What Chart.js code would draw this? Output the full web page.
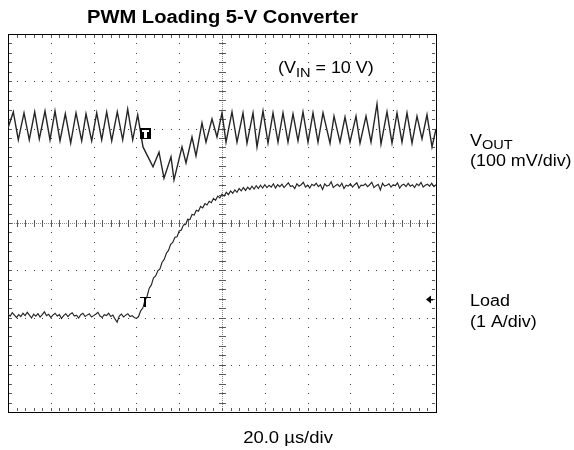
<!DOCTYPE html>
<html>
<head>
<meta charset="utf-8">
<script src="https://cdn.jsdelivr.net/npm/chart.js@4.4.1/dist/chart.umd.min.js"></script>
<style>
  body { margin: 0; background: #fff; }
  canvas { display: block; }
</style>
</head>
<body>
<canvas id="scope" width="574" height="450"></canvas>
<script>
// scope capture: x in microseconds (20 us/div), y in screen divisions (center = 0)
const xDivUs = 20;
const xDivs = 10;
const yDivs = 8;

// VOUT trace (100 mV/div), vertices of the ripple
const voutT = [0, 2.48, 4.81, 7.48, 9.95, 12.48, 14.63, 17.29, 19.63, 21.96, 24.3, 26.78, 29.3, 31.78,
  34.44, 36.45, 39.11, 41.45, 43.79, 46.12, 48.46, 51.07, 53.6, 55.93, 58.27, 60.61, 63.08, 67.76,
  70.56, 72.9, 76.17, 77.57, 81.31, 83.18, 85.98, 87.85, 90.65, 92.52, 95.33, 97.66, 100, 101.87,
  104.67, 107.01, 109.81, 111.68, 114.49, 116.36, 119.16, 121.5, 123.83, 126.17, 128.5, 130.84,
  133.18, 135.51, 137.85, 140.19, 142.52, 144.86, 147.2, 150.47, 152.34, 155.14, 157.48, 159.81,
  162.62, 164.49, 167.29, 169.63, 172.43, 174.3, 177.1, 179.44, 181.78, 184.11, 186.45, 188.79,
  191.12, 193.46, 195.79, 198.13, 200];
const voutDiv = [2.01, 2.35, 1.76, 2.33, 1.76, 2.35, 1.78, 2.37, 1.76, 2.37, 1.74, 2.31, 1.69, 2.33,
  1.74, 2.31, 1.74, 2.33, 1.76, 2.35, 1.74, 2.35, 1.76, 2.41, 1.76, 2.29, 1.61, 1.19,
  1.5, 0.95, 1.4, 0.91, 1.61, 1.27, 1.82, 1.42, 2.12, 1.71, 2.2, 1.82, 2.33, 1.71,
  2.35, 1.71, 2.33, 1.69, 2.33, 1.61, 2.37, 1.69, 2.33, 1.71, 2.33, 1.71,
  2.31, 1.74, 2.35, 1.71, 2.33, 1.71, 2.33, 1.69, 2.26, 1.71, 2.24, 1.71,
  2.26, 1.69, 2.26, 1.71, 2.52, 1.67, 2.35, 1.69, 2.33, 1.71, 2.33, 1.69,
  2.26, 1.78, 2.29, 1.61, 1.99];

// Load current trace (1 A/div), one sample per microsecond, 0..200 us
const loadDiv = [
  -1.93, -1.97, -1.90, -1.95, -2.00, -1.94, -1.98, -1.91, -1.96, -1.89,
  -1.95, -2.01, -1.93, -1.97, -1.92, -1.99, -1.94, -1.88, -1.96, -1.93,
  -2.00, -1.95, -1.91, -1.97, -1.94, -2.02, -1.96, -1.92, -1.98, -1.93,
  -1.90, -1.97, -1.95, -2.01, -1.94, -1.91, -1.98, -1.95, -1.92, -1.99,
  -1.96, -1.93, -1.89, -1.97, -2.00, -1.94, -1.96, -1.91, -1.98, -1.95,
  -2.03, -2.10, -1.97, -1.93, -1.99, -1.95, -1.92, -1.98, -1.96, -2.00,
  -2.02,
  -1.98, -1.86, -1.80, -1.64, -1.55, -1.38, -1.31, -1.16, -1.12, -1.01,
  -0.97, -0.83, -0.77, -0.64, -0.58, -0.45, -0.41, -0.30, -0.29, -0.17,
  -0.15, -0.04, -0.03, 0.08, 0.07, 0.18, 0.17, 0.27, 0.25, 0.35,
  0.32, 0.41, 0.38, 0.46, 0.43, 0.52, 0.48, 0.57, 0.53, 0.61,
  0.57, 0.65, 0.60, 0.68, 0.63, 0.70, 0.65, 0.73, 0.68, 0.75,
  0.69, 0.76, 0.71, 0.78, 0.72, 0.79, 0.73, 0.80, 0.74, 0.81,
  0.75, 0.80, 0.76, 0.83, 0.74, 0.81, 0.77,
  0.82, 0.75, 0.80, 0.85, 0.77, 0.79, 0.73, 0.83, 0.78, 0.81,
  0.86, 0.76, 0.80, 0.74, 0.82, 0.79, 0.84, 0.77, 0.81, 0.71,
  0.83, 0.78, 0.80, 0.87, 0.75, 0.79, 0.82, 0.77, 0.84, 0.73,
  0.80, 0.78, 0.83, 0.76, 0.81, 0.85, 0.74, 0.80, 0.79, 0.83,
  0.77, 0.81, 0.86, 0.75, 0.79, 0.82, 0.70, 0.84, 0.78, 0.80,
  0.83, 0.76, 0.81, 0.79, 0.85, 0.74, 0.80, 0.82, 0.77, 0.84,
  0.78, 0.81, 0.75, 0.83, 0.79, 0.86, 0.76, 0.80, 0.82, 0.78,
  0.84, 0.77, 0.81];
const loadT = loadDiv.map((v, i) => i); // 1 us sample interval

// markers
const trigT = 64;
const trigVoutDiv = 1.9;
const trigLoadDiv = -1.67;
const loadRefDiv = -1.61;

const FONT = '"Liberation Sans", Arial, sans-serif';

function stretchedText(ctx, text, x, y, font, align) {
  ctx.save();
  ctx.font = font;
  ctx.textBaseline = 'alphabetic';
  const w = ctx.measureText(text).width * 1.12;
  let x0 = x;
  if (align === 'center') x0 = x - w / 2;
  ctx.translate(x0, y);
  ctx.scale(1.12, 1);
  ctx.textAlign = 'left';
  ctx.fillText(text, 0, 0);
  ctx.restore();
  return w;
}

const graticule = {
  id: 'graticule',
  beforeDatasetsDraw(chart) {
    const { ctx, chartArea: a, scales: { x, y } } = chart;
    const xMin = x.min, yMin = y.min;
    const xMinor = xDivUs / 5, yMinor = 1 / 5;
    ctx.save();
    ctx.fillStyle = '#444';
    // dotted major lines
    for (let i = 1; i < xDivs; i++) {
      if (i === xDivs / 2) continue;
      const px = Math.round(x.getPixelForValue(xMin + i * xDivUs));
      for (let j = 1; j < yDivs * 5; j++) {
        ctx.fillRect(px, Math.round(y.getPixelForValue(yMin + j * yMinor)), 1, 1);
      }
    }
    for (let k = 1; k < yDivs; k++) {
      if (k === yDivs / 2) continue;
      const py = Math.round(y.getPixelForValue(yMin + k));
      for (let j = 1; j < xDivs * 5; j++) {
        ctx.fillRect(Math.round(x.getPixelForValue(xMin + j * xMinor)), py, 1, 1);
      }
    }
    // center cross with minor ticks
    const cx = Math.round(x.getPixelForValue(xMin + xDivs / 2 * xDivUs));
    const cy = Math.round(y.getPixelForValue(0));
    ctx.fillStyle = '#888';
    for (let py = Math.round(a.top); py < a.bottom; py += 2) ctx.fillRect(cx, py, 1, 1);
    for (let px = Math.round(a.left); px < a.right; px += 2) ctx.fillRect(px, cy, 1, 1);
    ctx.fillStyle = '#5a5a5a';
    for (let j = 1; j < yDivs * 5; j++) {
      const py = Math.round(y.getPixelForValue(yMin + j * yMinor));
      ctx.fillRect(cx - 3, py, 7, 1);
      ctx.fillRect(Math.round(a.left) + 1, py, 3, 1);
      ctx.fillRect(Math.round(a.right) - 4, py, 3, 1);
    }
    for (let j = 1; j < xDivs * 5; j++) {
      const px = Math.round(x.getPixelForValue(xMin + j * xMinor));
      ctx.fillRect(px, cy - 3, 1, 7);
      ctx.fillRect(px, Math.round(a.top) + 1, 1, 3);
      ctx.fillRect(px, Math.round(a.bottom) - 4, 1, 3);
    }
    // frame
    ctx.strokeStyle = '#000';
    ctx.lineWidth = 1;
    ctx.strokeRect(Math.round(a.left) + 0.5, Math.round(a.top) + 0.5,
      Math.round(a.right - a.left), Math.round(a.bottom - a.top));
    ctx.restore();
  },
  afterDraw(chart) {
    const { ctx, scales: { x, y } } = chart;
    ctx.save();
    ctx.fillStyle = '#000';
    // trigger markers
    const tx = x.getPixelForValue(trigT);
    const ty1 = y.getPixelForValue(trigVoutDiv);
    ctx.fillRect(Math.round(tx) - 5, Math.round(ty1) - 5, 11, 11);
    ctx.fillStyle = '#fff';
    ctx.fillRect(Math.round(tx) - 3, Math.round(ty1) - 3, 7, 2);
    ctx.fillRect(Math.round(tx) - 1, Math.round(ty1) - 3, 3, 8);
    ctx.fillStyle = '#000';
    const ty2 = y.getPixelForValue(trigLoadDiv);
    ctx.fillRect(Math.round(tx) - 5, Math.round(ty2) - 5, 11, 1);
    ctx.fillRect(Math.round(tx) - 1, Math.round(ty2) - 5, 2, 10);
    // ground reference arrow for load channel
    const ax = x.getPixelForValue(x.max) - 3;
    const ay = Math.round(y.getPixelForValue(loadRefDiv)) + 0.5;
    ctx.beginPath();
    ctx.moveTo(ax - 7, ay);
    ctx.lineTo(ax - 2, ay - 4);
    ctx.lineTo(ax - 2, ay + 4);
    ctx.closePath();
    ctx.fill();
    ctx.fillRect(ax - 3, ay - 0.5, 3, 1.5);

    // texts
    stretchedText(ctx, 'PWM Loading 5-V Converter', 222.5, 23, 'bold 18px ' + FONT, 'center');
    let w = stretchedText(ctx, '(V', 278, 73, '16px ' + FONT);
    w += stretchedText(ctx, 'IN', 278 + w, 77, '13px ' + FONT);
    stretchedText(ctx, ' = 10 V)', 278 + w, 73, '16px ' + FONT);

    w = stretchedText(ctx, 'V', 470, 146, '16px ' + FONT);
    stretchedText(ctx, 'OUT', 470 + w, 149, '13px ' + FONT);
    stretchedText(ctx, '(100 mV/div)', 470, 166, '16px ' + FONT);
    stretchedText(ctx, 'Load', 470, 306, '16px ' + FONT);
    stretchedText(ctx, '(1 A/div)', 470, 327, '16px ' + FONT);
    stretchedText(ctx, '20.0 \u00b5s/div', 288, 443, '16.5px ' + FONT, 'center');
    ctx.restore();
  }
};

const toPts = (ts, vs) => ts.map((t, i) => ({ x: t, y: vs[i] }));

new Chart(document.getElementById('scope').getContext('2d'), {
  type: 'line',
  data: {
    datasets: [
      {
        label: 'VOUT',
        data: toPts(voutT, voutDiv),
        borderColor: '#262626',
        borderWidth: 1.4,
        pointRadius: 0,
        tension: 0,
        fill: false
      },
      {
        label: 'Load',
        data: toPts(loadT, loadDiv),
        borderColor: '#262626',
        borderWidth: 1.15,
        pointRadius: 0,
        tension: 0,
        fill: false
      }
    ]
  },
  options: {
    responsive: false,
    animation: false,
    events: [],
    layout: { padding: { left: 8, top: 34, right: 138, bottom: 38 } },
    plugins: {
      legend: { display: false },
      title: { display: false },
      tooltip: { enabled: false }
    },
    scales: {
      x: { type: 'linear', min: 0, max: xDivs * xDivUs, display: false },
      y: { type: 'linear', min: -yDivs / 2, max: yDivs / 2, display: false }
    }
  },
  plugins: [graticule]
});
</script>
</body>
</html>
